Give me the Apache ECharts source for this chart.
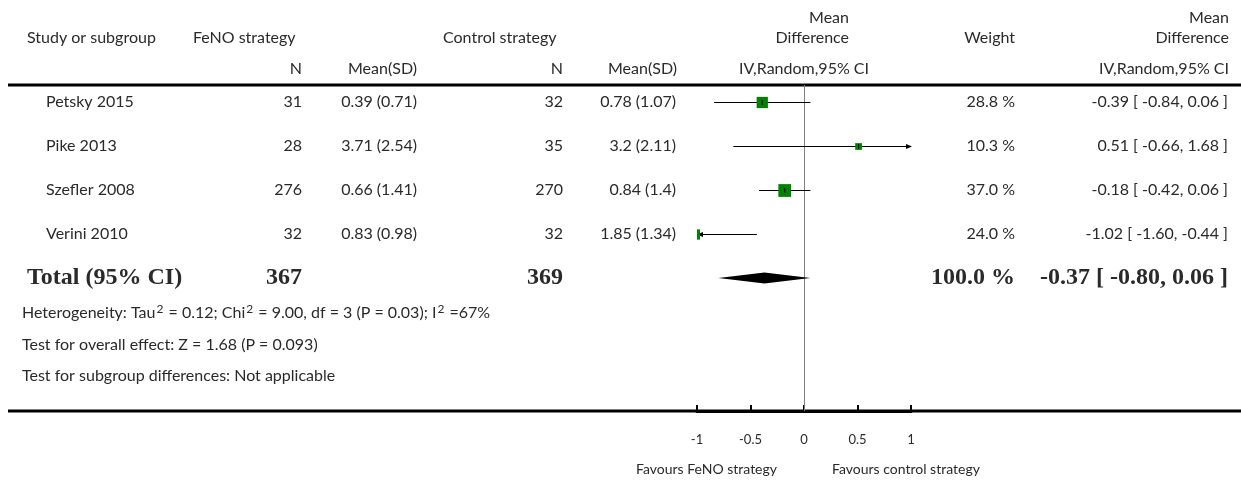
<!DOCTYPE html>
<html><head><meta charset="utf-8">
<script src="https://cdn.jsdelivr.net/npm/echarts@6/dist/echarts.min.js"></script>
<style>html,body{margin:0;padding:0;background:#fff}#c{width:1241px;height:480px}</style>
</head><body><div id="c"></div>
<script>
// ---------- data ----------
const studies   = ['Petsky 2015', 'Pike 2013', 'Szefler 2008', 'Verini 2010'];
const fenoN     = [31, 28, 276, 32];
const fenoMean  = [0.39, 3.71, 0.66, 0.83];
const fenoSD    = [0.71, 2.54, 1.41, 0.98];
const ctrlN     = [32, 35, 270, 32];
const ctrlMean  = [0.78, 3.2, 0.84, 1.85];
const ctrlSD    = [1.07, 2.11, 1.4, 1.34];
const md        = [-0.39, 0.51, -0.18, -1.02];
const ciLow     = [-0.84, -0.66, -0.42, -1.60];
const ciHigh    = [0.06, 1.68, 0.06, -0.44];
const weights   = [28.8, 10.3, 37.0, 24.0];
const totalN    = [367, 369];
const totalMD   = [-0.37, -0.80, 0.06];   // estimate, low, high
const totalWeight = 100.0;
const xTicks    = [-1, -0.5, 0, 0.5, 1];
const xTickLabels = ['-1', '-0.5', '0', '0.5', '1'];
const footnotes = [
  'Heterogeneity: Tau{sup|2} = 0.12; Chi{sup|2} = 9.00, df = 3 (P = 0.03); I{sup|2} =67%',
  'Test for overall effect: Z = 1.68 (P = 0.093)',
  'Test for subgroup differences: Not applicable'
];
const favours = ['Favours FeNO strategy', 'Favours control strategy'];

// ---------- layout ----------
const FONT = 'Lato, "Open Sans", sans-serif';
const SERIF = '"Liberation Serif", "DejaVu Serif", serif';
const TXT = '#2a2a2a';
const gridLeft = 697, gridWidth = 214, gridTop = 85, gridHeight = 326;
const firstRowOffset = 17, rowPitch = 44;
const yMin = -firstRowOffset / rowPitch;
const yMax = yMin + gridHeight / rowPitch;
const rowY = i => gridTop + (i - yMin) * rowPitch;
const xMin = xTicks[0], xMax = xTicks[xTicks.length - 1];
const squareScale = 2.1;

function txt(text, x, y, align, font, rich) {
  const st = { text: String(text), x: x, y: y, font: font || ('16px ' + FONT), fill: TXT,
               align: align, textAlign: align, verticalAlign: 'middle', textVerticalAlign: 'middle' };
  if (rich) st.rich = rich;
  return { type: 'text', silent: true, style: st };
}
const ciStr = (e, l, h) => e.toFixed(2) + ' [ ' + l.toFixed(2) + ', ' + h.toFixed(2) + ' ]';

const g = [];
// rules
g.push({ type: 'line', silent: true, shape: { x1: 8, y1: gridTop, x2: 1241, y2: gridTop }, style: { stroke: '#000', lineWidth: 3 } });
g.push({ type: 'line', silent: true, shape: { x1: 8, y1: gridTop + gridHeight, x2: 1241, y2: gridTop + gridHeight }, style: { stroke: '#000', lineWidth: 3 } });
// header
g.push(txt('Mean', 849, 18, 'right'));
g.push(txt('Mean', 1229, 18, 'right'));
g.push(txt('Study or subgroup', 27, 38, 'left'));
g.push(txt('FeNO strategy', 193, 38, 'left'));
g.push(txt('Control strategy', 443, 38, 'left'));
g.push(txt('Difference', 849, 38, 'right'));
g.push(txt('Weight', 1015, 38, 'right'));
g.push(txt('Difference', 1229, 38, 'right'));
g.push(txt('N', 302, 69, 'right'));
g.push(txt('Mean(SD)', 417, 69, 'right'));
g.push(txt('N', 563, 69, 'right'));
g.push(txt('Mean(SD)', 677, 69, 'right'));
g.push(txt('IV,Random,95% CI', 804, 69, 'center'));
g.push(txt('IV,Random,95% CI', 1229, 69, 'right'));
// study rows
studies.forEach((s, i) => {
  const y = rowY(i);
  g.push(txt(s, 46, y, 'left'));
  g.push(txt(fenoN[i], 302, y, 'right'));
  g.push(txt(fenoMean[i] + ' (' + fenoSD[i] + ')', 417, y, 'right'));
  g.push(txt(ctrlN[i], 563, y, 'right'));
  g.push(txt(ctrlMean[i] + ' (' + ctrlSD[i] + ')', 676, y, 'right'));
  g.push(txt(weights[i].toFixed(1) + ' %', 1015, y, 'right'));
  g.push(txt(ciStr(md[i], ciLow[i], ciHigh[i]), 1228, y, 'right'));
});
// total row
const ty = rowY(studies.length);
const BOLD = 'bold 24px ' + SERIF;
g.push(txt('Total (95% CI)', 27, ty, 'left', BOLD));
g.push(txt(totalN[0], 302, ty, 'right', BOLD));
g.push(txt(totalN[1], 563, ty, 'right', BOLD));
g.push(txt(totalWeight.toFixed(1) + ' %', 1015, ty, 'right', BOLD));
g.push(txt(ciStr(totalMD[0], totalMD[1], totalMD[2]), 1228, ty, 'right', BOLD));
// footnotes
const supRich = { sup: { fontSize: 12, fontFamily: FONT, fill: TXT, color: TXT, verticalAlign: 'top', lineHeight: 20, padding: [0, 1, 0, 1] } };
[313, 345, 376].forEach((y, i) => g.push(txt(footnotes[i], 22, y, 'left', null, supRich)));
// favours
g.push(txt(favours[0], 777, 469, 'right', '14px ' + FONT));
g.push(txt(favours[1], 832, 469, 'left', '14px ' + FONT));

// ---------- series ----------
const studyData = studies.map((s, i) => [md[i], i, ciLow[i], ciHigh[i], weights[i]]);

function renderStudy(params, api) {
  const cs = params.coordSys;
  const row = api.value(1), est = api.value(0), lo = api.value(2), hi = api.value(3), w = api.value(4);
  const y = Math.round(api.coord([0, row])[1]) + 0.5;
  const xl = api.coord([Math.max(lo, xMin), row])[0];
  const xh = api.coord([Math.min(hi, xMax), row])[0];
  const xc = api.coord([est, row])[0];
  const s = squareScale * Math.sqrt(w);
  const ch = [];
  ch.push({ type: 'line', shape: { x1: xl, y1: y, x2: xh, y2: y }, style: { stroke: '#000', lineWidth: 1 } });
  if (hi > xMax) ch.push({ type: 'polygon', shape: { points: [[xh + 1, y], [xh - 5, y - 2.5], [xh - 5, y + 2.5]] }, style: { fill: '#000' } });
  if (lo < xMin) ch.push({ type: 'polygon', shape: { points: [[xl, y], [xl + 6, y - 2.5], [xl + 6, y + 2.5]] }, style: { fill: '#000' } });
  const r = echarts.graphic.clipRectByRect({ x: xc - s / 2, y: y - s / 2, width: s, height: s },
                                            { x: cs.x, y: cs.y, width: cs.width, height: cs.height });
  if (r) ch.push({ type: 'rect', shape: r, style: { fill: '#008000' } });
  if (est >= xMin && est <= xMax) ch.push({ type: 'line', shape: { x1: xc, y1: y - 2.5, x2: xc, y2: y + 2.5 }, style: { stroke: '#000', lineWidth: 1 } });
  return { type: 'group', children: ch };
}
function renderDiamond(params, api) {
  const row = api.value(1);
  const c = api.coord([api.value(0), row]);
  const l = api.coord([api.value(2), row]);
  const h = api.coord([api.value(3), row]);
  const hh = 5.5;
  return { type: 'polygon', shape: { points: [[l[0], c[1]], [c[0], c[1] - hh], [h[0], c[1]], [c[0], c[1] + hh]] }, style: { fill: '#000' } };
}
function renderZero(params, api) {
  const cs = params.coordSys;
  const x = Math.round(api.coord([api.value(0), 0])[0]) + 0.5;
  return { type: 'line', shape: { x1: x, y1: cs.y, x2: x, y2: cs.y + cs.height }, style: { stroke: '#808080', lineWidth: 1 } };
}

const chart = echarts.init(document.getElementById('c'), null, { renderer: 'canvas' });
chart.setOption({
  animation: false,
  backgroundColor: '#fff',
  grid: { left: gridLeft, width: gridWidth, top: gridTop, height: gridHeight },
  xAxis: {
    type: 'value', min: xMin, max: xMax, interval: 0.5, position: 'bottom',
    axisLine: { show: true, onZero: false, lineStyle: { color: '#000', width: 3 } },
    axisTick: { show: true, inside: true, length: 6, lineStyle: { color: '#000', width: 2 } },
    axisLabel: { margin: 22, fontSize: 13, color: TXT, fontFamily: FONT,
                 formatter: v => xTickLabels[xTicks.indexOf(v)] ?? String(v) },
    splitLine: { show: false }
  },
  yAxis: { type: 'value', inverse: true, min: yMin, max: yMax, show: false },
  graphic: g,
  series: [
    { type: 'custom', renderItem: renderZero, data: [[0]], z: 1, silent: true },
    { type: 'custom', renderItem: renderStudy, data: studyData, z: 2, silent: true },
    { type: 'custom', renderItem: renderDiamond, data: [[totalMD[0], studies.length, totalMD[1], totalMD[2]]], z: 2, silent: true }
  ]
});
</script>
</body></html>
